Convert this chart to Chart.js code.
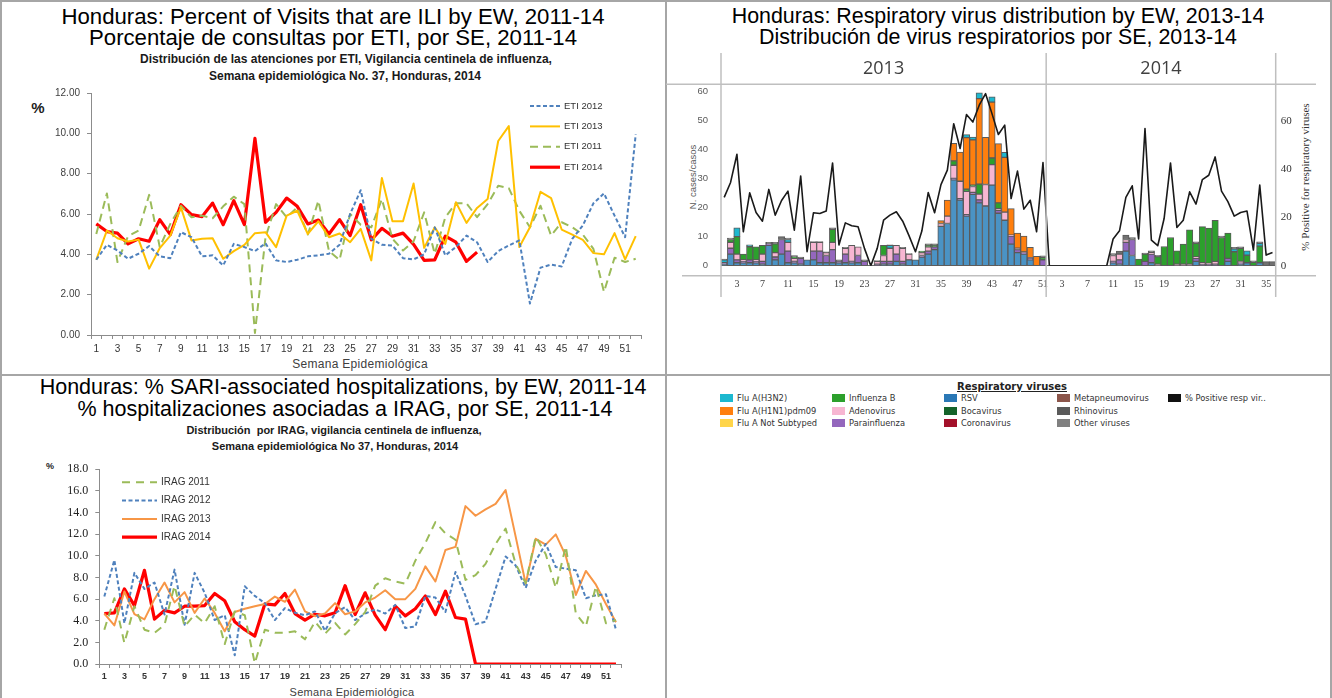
<!DOCTYPE html>
<html><head><meta charset="utf-8">
<script src="https://cdn.jsdelivr.net/npm/chart.js@4.4.1/dist/chart.umd.min.js"></script>
<style>
html,body{margin:0;padding:0;background:#fff;}
body{width:1332px;height:698px;overflow:hidden;position:relative;font-family:'Liberation Sans',Arial,sans-serif;}
.ln{position:absolute;background:#a6a6a6;}
.t{position:absolute;white-space:nowrap;transform:translate(-50%,-50%);line-height:1;}
.rot{transform:translate(-50%,-50%) rotate(-90deg);}
.big{font-size:22.2px;color:#000;}
.sub{font-size:12px;font-weight:bold;color:#1a1a1a;}
canvas{position:absolute;}
.lg{position:absolute;font-family:'DejaVu Sans',sans-serif;font-size:8.3px;color:#333;white-space:nowrap;line-height:1;transform:translateY(-50%);}
.sw{position:absolute;width:13px;height:8px;transform:translateY(-50%);}
</style></head><body>
<div class="ln" style="left:0;top:0;width:1332px;height:2px"></div>
<div class="ln" style="left:0;top:0;width:2px;height:698px"></div>
<div class="ln" style="left:1330px;top:0;width:2px;height:698px"></div>
<div class="ln" style="left:665px;top:0;width:2px;height:698px"></div>
<div class="ln" style="left:0;top:374px;width:1332px;height:2px"></div>

<div class="t big" style="left:333px;top:17px">Honduras: Percent of Visits that are ILI by EW, 2011-14</div>
<div class="t big" style="left:333px;top:38px">Porcentaje de consultas por ETI, por SE, 2011-14</div>
<div class="t sub" style="left:346px;top:59px">Distribución de las atenciones por ETI, Vigilancia centinela de influenza,</div>
<div class="t sub" style="left:345px;top:76px">Semana epidemiológica No. 37, Honduras, 2014</div>
<div class="t" style="left:38px;top:107px;font-size:15px;font-weight:bold;color:#222">%</div>
<div class="t" style="left:360px;top:364px;font-size:12px;color:#404040;letter-spacing:0.3px">Semana Epidemiológica</div>

<div class="t big" style="left:998px;top:17px;font-size:21.4px">Honduras: Respiratory virus distribution by EW, 2013-14</div>
<div class="t big" style="left:998px;top:38px;font-size:21.4px">Distribución de virus respiratorios por SE, 2013-14</div>
<div class="t rot" style="left:693px;top:177px;font-size:9.5px;color:#595959">N. cases/casos</div>
<div class="t rot" style="left:1305px;top:177px;font-size:11px;color:#333;font-family:'Liberation Serif',serif">% Positive for respiratory viruses</div>

<div class="t big" style="left:343px;top:388px;font-size:21.5px">Honduras: % SARI-associated hospitalizations, by EW, 2011-14</div>
<div class="t big" style="left:345px;top:410px;font-size:21.5px">% hospitalizaciones asociadas a IRAG, por SE, 2011-14</div>
<div class="t sub" style="left:334px;top:430px;font-size:11px">Distribución&nbsp; por IRAG, vigilancia centinela de influenza,</div>
<div class="t sub" style="left:335px;top:446px;font-size:11px">Semana epidemiológica No 37, Honduras, 2014</div>
<div class="t" style="left:50px;top:466px;font-size:9px;font-weight:bold;color:#222">%</div>
<div class="t" style="left:352px;top:692px;font-size:11px;color:#404040;letter-spacing:0.3px">Semana Epidemiológica</div>

<div class="t" style="left:1012px;top:387px;font-family:'DejaVu Sans',sans-serif;font-size:10px;font-weight:bold;text-decoration:underline;color:#222">Respiratory viruses</div>
<div id="legendBox"></div>

<canvas id="cIli" width="666" height="295" style="left:0;top:80px"></canvas>
<canvas id="cVir" width="666" height="260" style="left:666px;top:45px"></canvas>
<canvas id="cSari" width="666" height="243" style="left:0;top:455px"></canvas>

<script>
// ---------- ILI (ETI) ----------
const weeks52 = [1,2,3,4,5,6,7,8,9,10,11,12,13,14,15,16,17,18,19,20,21,22,23,24,25,26,27,28,29,30,31,32,33,34,35,36,37,38,39,40,41,42,43,44,45,46,47,48,49,50,51,52];
const eti2012 = [3.73,4.47,4.19,3.78,4.03,4.41,3.90,3.81,5.10,4.85,3.90,3.95,3.45,4.52,4.36,4.16,4.55,3.70,3.62,3.73,3.90,3.95,4.03,4.48,6.00,7.18,4.77,4.47,4.44,3.81,3.75,4.00,5.34,3.95,4.36,4.93,4.60,3.62,4.16,4.44,4.69,1.56,3.34,3.49,3.40,4.77,5.43,6.53,7.02,5.92,4.85,9.95];
const eti2013 = [3.73,5.18,4.80,4.64,4.73,3.29,4.31,4.93,6.33,4.69,4.77,4.80,3.78,4.16,4.47,5.05,5.10,4.36,5.92,6.16,5.01,5.64,4.85,5.03,4.60,5.26,3.70,7.78,5.64,5.64,7.51,4.32,5.34,4.52,6.58,5.56,6.30,6.74,9.62,10.36,4.36,5.34,7.10,6.79,5.23,4.98,4.72,4.06,4.00,5.05,3.75,4.90];
const eti2011 = [5.01,7.02,3.62,4.90,5.18,6.95,4.36,5.51,6.41,5.84,5.92,5.79,6.38,6.86,6.49,0.10,4.85,6.49,5.84,6.33,4.98,6.66,4.16,3.72,6.00,5.47,5.34,6.74,4.77,4.19,4.65,6.08,4.03,5.84,6.53,6.53,5.84,6.49,7.40,7.28,6.16,5.34,6.41,4.93,5.59,5.34,4.98,4.27,2.14,3.83,3.62,3.78];
const eti2014 = [5.51,5.13,5.05,4.52,4.77,4.65,5.72,4.98,6.46,5.97,5.87,6.54,5.47,6.66,5.47,9.75,5.59,6.08,6.79,6.38,5.51,5.70,5.01,5.72,4.93,6.46,4.72,5.29,4.90,5.05,4.49,3.70,3.73,4.90,4.60,3.65,4.11];
const iliTicks = [0,2,4,6,8,10,12];

// ---------- SARI (IRAG) ----------
const irag2011 = [3.17,6.08,1.93,5.34,3.17,2.88,3.62,7.24,3.47,4.57,3.77,5.34,1.84,4.86,4.51,0.06,3.17,2.88,2.88,3.02,2.28,3.91,2.79,3.80,2.73,3.68,4.80,7.24,7.92,7.62,7.41,9.55,11.18,13.11,12.07,11.48,7.77,8.21,9.25,11.09,12.51,9.25,7.47,11.77,10.14,7.03,10.88,4.66,3.47,7.18,3.77,4.06];
const irag2012 = [6.23,9.61,3.77,8.42,6.94,7.53,4.57,8.72,3.62,8.42,6.58,4.06,4.51,0.80,7.18,6.29,5.63,4.06,5.16,4.74,4.51,4.86,3.08,4.70,5.25,4.06,4.66,5.04,4.66,5.46,3.32,3.47,6.29,6.14,4.80,8.51,6.29,3.68,3.91,6.94,9.93,9.10,7.03,9.55,11.09,8.96,8.81,8.66,6.08,6.35,6.44,3.17];
const irag2013 = [4.66,3.56,6.70,4.60,4.12,5.99,7.53,5.69,6.64,4.72,6.05,4.72,3.02,4.80,5.10,5.34,5.55,6.23,5.75,6.88,4.86,4.42,4.66,5.62,4.60,4.86,5.69,6.14,6.82,5.99,5.99,6.94,9.02,7.62,10.53,10.82,14.59,13.70,14.29,14.80,16.07,11.77,7.41,11.57,11.03,11.98,9.99,6.38,8.60,7.33,5.55,3.86];
const irag2014 = [4.66,4.72,6.94,5.40,8.66,4.15,4.95,4.72,5.34,5.34,5.40,6.52,5.84,3.91,3.17,2.58,5.55,5.46,6.52,4.66,4.06,4.60,4.45,4.73,7.24,4.57,6.58,4.51,3.17,5.34,4.45,5.10,6.29,4.57,6.73,4.30,4.15,0,0,0,0,0,0,0,0,0,0,0,0,0,0,0];
const sariTicks = [0,2,4,6,8,10,12,14,16,18];

// ---------- Respiratory viruses ----------
const years = ['2013','2014'];
const weeks2013 = [1,2,3,4,5,6,7,8,9,10,11,12,13,14,15,16,17,18,19,20,21,22,23,24,25,26,27,28,29,30,31,32,33,34,35,36,37,38,39,40,41,42,43,44,45,46,47,48,49,50,51];
const weeks2014 = [1,2,3,4,5,6,7,8,9,10,11,12,13,14,15,16,17,18,19,20,21,22,23,24,25,26,27,28,29,30,31,32,33,34,35,36];
const rsv2013   = [0.5,4,1,1,1,1,0.5,7,2,4,1,1,0.5,2,2,1,1,1,1,1,1,1,0,0,0,0.5,0.5,1.5,0.5,2,2,3,4,5.5,13.5,14.5,29.5,22.5,17,24.5,21.6,20.5,27.7,18,15.6,7.4,4.5,4,2,0,0];
const rsv2014   = [0,0,0,0,0,0,0,0,0,0,1,0.5,5,3.5,0,0,1,0,0,0,0,0,0,1.5,0,0,0,0,1.5,0,0.5,1,0,1,0,0];
const para2013  = [0.5,2,1,0.5,1,0.5,1,0.5,1,5,4,0.5,2,0,3,4,2.5,4.5,0.5,3,0.5,2.5,1.5,0,0.5,1,1,2.5,1,0,0,0.5,1,1,0,0,0.5,0.5,0.5,0.7,1,0,0,1,0,2.8,1,0.5,0.5,0,2];
const para2014  = [0,0,0,0,0,0,0,0,0,0,0.5,1.5,3,5.5,0,1.5,3,0,0,0,0,0,0,1,0.5,0.5,0.5,0,1,0,0.5,0,0,0,0,0];
const adeno2013 = [0,2,2,0.5,0,0.5,2.5,0,1.5,0,3,1,0,0,3,3,1,2.5,0,2,5.5,3,0,0,1,2,4.5,3,4.5,2,0,1,1.5,0,1,2.5,4.5,6,8,2,2,7.4,7,0.6,2.8,0.3,0.5,0.2,0.3,0,0];
const adeno2014 = [0,0,0,0,0,0,0,0,0,0,2,2,1,0,0,0,0.5,0.5,0,0,0.5,0.5,0.5,0.5,0.5,0.3,1,0,0,0,0.5,0,0,0,0,0];
const fluB2013  = [0,1,6,2,4.5,4.5,3,0,3,0,0,0.5,0,0,0,0,0,4.5,0,0,0,0,0,0,0,3.5,0,0,0,0,0,0.5,0.5,0.5,0,0,1.5,0,0.8,0.5,3.4,0,2.3,2,0,0,0,0,0,0,0.8];
const fluB2014  = [0,0,0,0,0,0,0,0,0,0,0,0,0,0,2.3,2.5,0,2.6,6.6,9.7,4.6,6.9,11.8,4.7,12.4,12.1,14.1,9.7,8.7,4.8,4.5,2.6,1.2,5.7,0,0];
const h1n12013  = [0,0,0,0,0,0,0,0,0,0,0,0,0,0,0,0,0,0,0,0,0,0,0,0,0,0,0,0,0,0,0,0,0,0,1,5.5,6,10,17.7,15.5,29.4,16.2,19.2,20.3,18.8,9.1,5.2,5.5,3.5,3.2,0];
const h1n12014  = [0,0,0,0,0,0,0,0,0,0,0,0,0,0,0,0,0,0,0,0,0,0,0,0,0,0,0,0,0,0,0,0,0,0,0,0];
const h3n22013  = [1,0,3,0,0.7,0,0,0,0,0,1,0,0,0,0,0,0,0,0,0,0,0,0,0,0,0,1,0,0,0,0,0,0,0,0,0,0,0,1,1,2,0,1.8,0,1.7,0,0,0,0,0,0];
const h3n22014  = [0,0,0,0,0,0,0,0,0,0,0,0,0,0,0,0,0,0,0,0,0,0,0,0,0,0,0,0,0,1,0,1.5,0,1,0,0];
const other2013 = [0.3,0.5,0,0,0,0,0,0.5,0.5,1,0.5,0.5,0.5,0,0.3,0.3,0.3,0.5,0.5,0.3,0,0,0.5,0,0.3,0,0.2,0,0.3,0.2,0,0,0.5,0.5,0,0,0,0,0,0,0,0,0,0,0,0,0,0,0,0,0.6];
const other2014 = [0,0,0,0,0,0,0,0,0,0,0.7,1,1.5,0.7,0,0.3,0.6,0.5,0,0,0,0,0,0.5,0,0,0,0.5,0,0.5,0.5,0,0.5,0.5,1.4,1.4];
const pos2013   = [28.4,34.6,46.3,14.1,30.3,22.1,18.5,31.7,21.0,27.1,31.0,14.8,37.3,5.8,22.0,21.7,22.7,42.7,8.6,17.8,16.6,16.2,7.2,0,7.2,18.9,21.0,22.4,18.5,12.4,5.8,14.4,30.4,22.0,33.7,39.7,59.0,48.7,62.8,59.7,66.7,71.5,63.2,54.5,58.4,27.9,39.3,23.5,27.2,14.1,42.9];
const pos2014   = [0,0,0,0,0,0,0,0,0,0,11.1,14.5,28.4,33.2,11.1,57.0,10.6,8.3,19.6,42.7,15.9,18.9,30.7,25.6,35.8,37.6,45.2,31.0,26.6,20.6,22.1,22.7,6.5,33.5,4.4,5.5];
const casesTicks = [0,10,20,30,40,50,60];
const posTicks = [0,20,40,60];

// legend (bottom-right cell)
const legendLabels = ['Flu A(H3N2)','Flu A(H1N1)pdm09','Flu A Not Subtyped','Influenza B','Adenovirus','Parainfluenza','RSV','Bocavirus','Coronavirus','Metapneumovirus','Rhinovirus','Other viruses','% Positive resp vir..'];
const legendColors = ['#1db8cf','#ff7f0e','#ffd54a','#2ca02c','#f7b6d2','#9467bd','#2a78b6','#14632a','#a3102a','#8c564b','#5a5a5a','#808080','#111111'];

(function(){
  const box = document.getElementById('legendBox');
  const colX = [720, 832, 944, 1057, 1168];
  const rowY = [398, 410.5, 423];
  legendLabels.forEach((lab, i) => {
    const c = Math.floor(i / 3), r = i % 3;
    const sw = document.createElement('div');
    sw.className = 'sw'; sw.style.left = colX[c] + 'px'; sw.style.top = rowY[r] + 'px'; sw.style.background = legendColors[i];
    const tx = document.createElement('div');
    tx.className = 'lg'; tx.style.left = (colX[c] + 17) + 'px'; tx.style.top = rowY[r] + 'px'; tx.textContent = lab;
    box.appendChild(sw); box.appendChild(tx);
  });
})();

function makeLegend(cfg){
  return {
    id: 'inLegend',
    afterDatasetsDraw(chart){
      const ctx = chart.ctx; ctx.save();
      cfg.order.forEach((di, i) => {
        const ds = chart.data.datasets[di];
        const y = cfg.y + i * cfg.rowH;
        ctx.beginPath(); ctx.strokeStyle = ds.borderColor; ctx.lineWidth = ds.borderWidth;
        ctx.setLineDash(ds.borderDash || []);
        ctx.moveTo(cfg.x, y); ctx.lineTo(cfg.x + cfg.len, y); ctx.stroke(); ctx.setLineDash([]);
        ctx.fillStyle = cfg.color; ctx.font = cfg.font; ctx.textBaseline = 'middle'; ctx.textAlign = 'left';
        ctx.fillText(ds.label, cfg.x + cfg.len + cfg.gap, y);
      });
      ctx.restore();
    }
  };
}

Chart.defaults.font.family = "'Liberation Sans', Arial, sans-serif";
Chart.defaults.color = '#404040';

function lineOpts(p){
  return {
    responsive: false, animation: false, devicePixelRatio: 1,
    layout: { padding: p.pad, autoPadding: false },
    elements: { point: { radius: 0 }, line: { tension: 0, borderJoinStyle: 'round', fill: false } },
    plugins: { legend: { display: false }, tooltip: { enabled: false } },
    scales: {
      x: {
        offset: true,
        grid: { display: true, drawOnChartArea: false, offset: true, tickLength: 4, color: '#8c8c8c' },
        border: { display: true, color: '#8c8c8c' },
        ticks: { autoSkip: false, maxRotation: 0, padding: p.xPad, font: p.xFont, color: '#333',
          callback: function(v, i){ return i % 2 === 0 ? this.getLabelForValue(v) : ''; } },
        afterFit: s => { s.height = p.xH; }
      },
      y: {
        min: 0, max: p.max,
        afterBuildTicks: s => { s.ticks = p.ticks.map(v => ({ value: v })); },
        grid: { display: true, drawOnChartArea: false, tickLength: 4, color: '#8c8c8c' },
        border: { display: true, color: '#8c8c8c' },
        ticks: { padding: p.yPad, font: p.yFont, color: p.yColor, callback: v => v.toFixed(p.dec) },
        afterFit: s => { s.width = p.yW; }
      }
    }
  };
}

new Chart(document.getElementById('cIli'), {
  type: 'line',
  data: { labels: weeks52, datasets: [
    { label: 'ETI 2012', data: eti2012, borderColor: '#4f81bd', borderWidth: 2, borderDash: [4, 2.5] },
    { label: 'ETI 2013', data: eti2013, borderColor: '#ffc000', borderWidth: 2 },
    { label: 'ETI 2011', data: eti2011, borderColor: '#9bbb59', borderWidth: 2, borderDash: [8, 5] },
    { label: 'ETI 2014', data: eti2014, borderColor: '#ff0000', borderWidth: 3.2 }
  ]},
  options: lineOpts({ pad: { left: 0, right: 25, top: 11, bottom: 0 }, xH: 40, yW: 91, max: 12, ticks: iliTicks, dec: 2,
    xPad: 4, yPad: 7, xFont: { size: 10 }, yFont: { size: 10 }, yColor: '#404040' }),
  plugins: [ makeLegend({ order: [0,1,2,3], x: 530, y: 26, rowH: 20.4, len: 30, gap: 4, font: "9.5px 'Liberation Sans', Arial", color: '#333' }) ]
});

new Chart(document.getElementById('cSari'), {
  type: 'line',
  data: { labels: weeks52, datasets: [
    { label: 'IRAG 2011', data: irag2011, borderColor: '#9bbb59', borderWidth: 2, borderDash: [8, 6] },
    { label: 'IRAG 2012', data: irag2012, borderColor: '#4f81bd', borderWidth: 2, borderDash: [4, 2.5] },
    { label: 'IRAG 2013', data: irag2013, borderColor: '#f79646', borderWidth: 2 },
    { label: 'IRAG 2014', data: irag2014, borderColor: '#ff0000', borderWidth: 3.2 }
  ]},
  options: lineOpts({ pad: { left: 0, right: 45, top: 6.7, bottom: 0 }, xH: 34, yW: 99.3, max: 18, ticks: sariTicks, dec: 1,
    xPad: 3, yPad: 7, xFont: { size: 9, weight: 'bold' }, yFont: { size: 12, family: "'Liberation Serif', serif" }, yColor: '#222' }),
  plugins: [ makeLegend({ order: [0,1,2,3], x: 122, y: 27.3, rowH: 18.3, len: 35, gap: 4, font: "10px 'Liberation Sans', Arial", color: '#333' }) ]
});

const nA = weeks2013.length;
const yearBox = {
  id: 'yearBox',
  afterDraw(chart){
    const ctx = chart.ctx, ca = chart.chartArea, xs = chart.scales.x;
    const w = xs.getPixelForValue(1) - xs.getPixelForValue(0);
    const mid = xs.getPixelForValue(nA) - w / 2;
    const bounds = [ca.left, mid, ca.right];
    ctx.save();
    ctx.strokeStyle = '#bfbfbf'; ctx.lineWidth = 1.5;
    bounds.forEach(b => { ctx.beginPath(); ctx.moveTo(b, 8); ctx.lineTo(b, 252); ctx.stroke(); });
    ctx.beginPath(); ctx.moveTo(0, ca.top - 6.7); ctx.lineTo(650, ca.top - 6.7); ctx.stroke();
    ctx.beginPath(); ctx.moveTo(16, ca.bottom + 10); ctx.lineTo(650, ca.bottom + 10); ctx.stroke();
    ctx.fillStyle = '#404040'; ctx.font = "18px 'Open Sans', sans-serif"; ctx.textAlign = 'center'; ctx.textBaseline = 'middle';
    ctx.fillText(years[0], (bounds[0] + bounds[1]) / 2, 24);
    ctx.fillText(years[1], (bounds[1] + bounds[2]) / 2, 24);
    ctx.restore();
  }
};

function barDs(label, color, a, b){
  return { type: 'bar', label, data: a.concat(b), backgroundColor: color, borderColor: '#5a5a5a', borderWidth: 1,
    borderSkipped: false, barPercentage: 1, categoryPercentage: 1, order: 1, yAxisID: 'y' };
}

new Chart(document.getElementById('cVir'), {
  type: 'bar',
  data: { labels: weeks2013.concat(weeks2014), datasets: [
    barDs('RSV', '#4a93c5', rsv2013, rsv2014),
    barDs('Parainfluenza', '#9467bd', para2013, para2014),
    barDs('Adenovirus', '#f7b6d2', adeno2013, adeno2014),
    barDs('Influenza B', '#2ca02c', fluB2013, fluB2014),
    barDs('Flu A(H1N1)pdm09', '#ff7f0e', h1n12013, h1n12014),
    barDs('Flu A(H3N2)', '#1db8cf', h3n22013, h3n22014),
    barDs('Other viruses', '#707070', other2013, other2014),
    { type: 'line', label: '% Positive resp vir.', data: pos2013.concat(pos2014), yAxisID: 'y1', order: 0,
      borderColor: '#1a1a1a', borderWidth: 1.6, pointRadius: 0, tension: 0, fill: false, borderJoinStyle: 'round' }
  ]},
  options: {
    responsive: false, animation: false, devicePixelRatio: 1,
    layout: { padding: { left: 18, right: 16.3, top: 46, bottom: 0 }, autoPadding: false },
    plugins: { legend: { display: false }, tooltip: { enabled: false } },
    scales: {
      x: {
        stacked: true, offset: true,
        grid: { display: false, drawTicks: false }, border: { display: true, color: '#6a6a6a' },
        ticks: { autoSkip: false, maxRotation: 0, padding: 13, font: { size: 10, family: "'Liberation Serif', serif" }, color: '#404040',
          callback: function(v){ const l = Number(this.getLabelForValue(v)); return (l - 3) % 4 === 0 ? String(l) : ''; } },
        afterFit: s => { s.height = 39.3; }
      },
      y: {
        stacked: true, min: 0, max: 60, position: 'left',
        afterBuildTicks: s => { s.ticks = casesTicks.map(v => ({ value: v })); },
        grid: { display: false, drawTicks: false }, border: { display: false },
        ticks: { padding: 13, font: { size: 9.5 }, color: '#595959' },
        afterFit: s => { s.width = 37; }
      },
      y1: {
        min: 0, max: 72.6, position: 'right',
        afterBuildTicks: s => { s.ticks = posTicks.map(v => ({ value: v })); },
        grid: { display: false, drawTicks: false }, border: { display: false },
        ticks: { padding: 5, font: { size: 11, family: "'Liberation Serif', serif" }, color: '#333' },
        afterFit: s => { s.width = 40; }
      }
    }
  },
  plugins: [yearBox]
});
</script>
</body></html>
